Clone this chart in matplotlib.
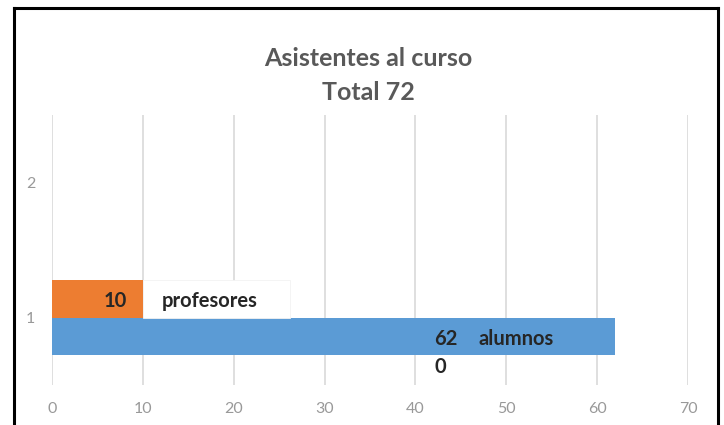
import matplotlib
matplotlib.use("Agg")
import matplotlib.pyplot as plt
from matplotlib.lines import Line2D
from matplotlib.patches import Rectangle
import numpy as np

categories = [1, 2]
series_names = ["profesores", "alumnos"]
profesores = [10, np.nan]
alumnos = [62, np.nan]
total = 72
title_lines = ["Asistentes al curso", f"Total {total}"]
xticks = [0, 10, 20, 30, 40, 50, 60, 70]

plt.rcParams['font.family'] = ['Lato', 'DejaVu Sans']

fig = plt.figure(figsize=(7.24, 4.25), dpi=100)
W, H = 724, 425
ax = fig.add_axes([52 / W, 40 / H, 636 / W, 270 / H])

bh = 0.28
cat = np.array(categories, dtype=float)
ax.barh(cat + bh / 2, profesores, height=bh, color="#ED7D31", zorder=5)
ax.barh(cat - bh / 2, alumnos, height=bh, color="#5B9BD5", zorder=2)

ax.set_xlim(0, 70)
ax.set_ylim(0.5, 2.5)
ax.set_xticks(xticks)
ax.set_yticks(categories)
ax.set_yticklabels([str(c) for c in categories])
ax.grid(axis="x", color="#D9D9D9", linewidth=1.2, zorder=0)
ax.grid(axis="y", visible=False)
for s in ax.spines.values():
    s.set_visible(False)
ax.tick_params(axis="both", length=0, colors="#999999", labelsize=11.5)
ax.tick_params(axis="x", pad=12)
ax.tick_params(axis="y", pad=12)

lab = dict(fontsize=14.5, fontweight="bold", color="#262626", zorder=6)
# white label box for profesores
ax.add_patch(Rectangle((10.0, cat[0]), 16.2, bh, facecolor="white",
                       edgecolor="#F2F2F2", lw=0.6, zorder=3))
ax.text(8.3, cat[0] + bh / 2 - 0.02, str(profesores[0]), ha="right", va="center", **lab)
ax.text(12.1, cat[0] + bh / 2 - 0.02, series_names[0], ha="left", va="center", **lab)
ax.text(43.3, cat[0] - bh / 2 - 0.02, str(alumnos[0]), ha="center", va="center", **lab)
ax.text(46.9, cat[0] - bh / 2 - 0.02, series_names[1], ha="left", va="center", **lab)
ax.text(42.7, 0.635, "0", ha="center", va="center", **lab)

# title
fig.text(368 / W, 1 - 58 / H, title_lines[0], ha="center", va="center",
         fontsize=18, fontweight="bold", color="#595959")
fig.text(368 / W, 1 - 92 / H, title_lines[1], ha="center", va="center",
         fontsize=18, fontweight="bold", color="#595959")

# border (left, top, right)
fig.add_artist(Line2D([13.5 / W, 13.5 / W], [0, 1 - 7.5 / H], color="black", lw=2.2,
                      transform=fig.transFigure))
fig.add_artist(Line2D([13.5 / W, 718 / W], [1 - 7.5 / H, 1 - 7.5 / H], color="black", lw=2.2,
                      transform=fig.transFigure))
fig.add_artist(Line2D([718 / W, 718 / W], [0, 1 - 7.5 / H], color="black", lw=2.2,
                      transform=fig.transFigure))

fig.savefig("out.png", dpi=100)
